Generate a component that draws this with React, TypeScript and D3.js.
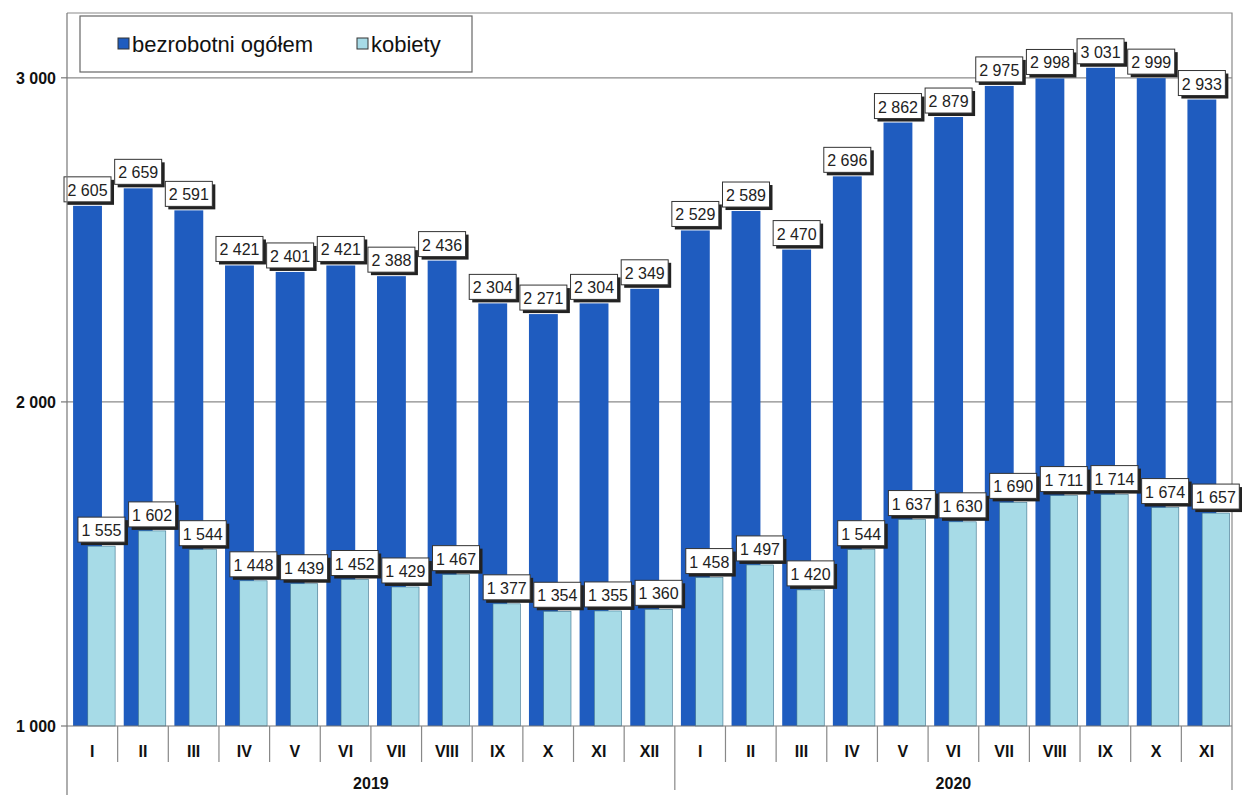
import React, { useEffect, useRef } from 'react';
import * as d3 from 'd3';

const months2019 = ['I', 'II', 'III', 'IV', 'V', 'VI', 'VII', 'VIII', 'IX', 'X', 'XI', 'XII'];
const months2020 = ['I', 'II', 'III', 'IV', 'V', 'VI', 'VII', 'VIII', 'IX', 'X', 'XI'];
const years = ['2019', '2020'];
const total = [2605, 2659, 2591, 2421, 2401, 2421, 2388, 2436, 2304, 2271, 2304, 2349,
  2529, 2589, 2470, 2696, 2862, 2879, 2975, 2998, 3031, 2999, 2933];
const women = [1555, 1602, 1544, 1448, 1439, 1452, 1429, 1467, 1377, 1354, 1355, 1360,
  1458, 1497, 1420, 1544, 1637, 1630, 1690, 1711, 1714, 1674, 1657];
const yTicks = [1000, 2000, 3000];
const seriesNames = ['bezrobotni ogółem', 'kobiety'];

const DARK = '#1f5cbf';
const LIGHT = '#a7dbe7';

export default function App() {
  const ref = useRef<SVGSVGElement>(null);

  useEffect(() => {
    const width = 1242;
    const height = 795;
    const margin = { top: 13, right: 10, bottom: 69, left: 67 };
    const font = 'Arial, "Liberation Sans", sans-serif';

    const svg = d3.select(ref.current);
    svg.selectAll('*').remove();

    const cats = [
      ...months2019.map((m) => `2019-${m}`),
      ...months2020.map((m) => `2020-${m}`),
    ];
    const rows = cats.map((c, i) => ({ key: c, label: c.split('-')[1], total: total[i], women: women[i] }));

    const x = d3.scaleBand<string>().domain(cats).range([margin.left, width - margin.right]).padding(0);
    const y = d3.scaleLinear().domain([1000, 3200]).range([height - margin.bottom, margin.top]);
    const bw = x.bandwidth();
    const x0 = margin.left;
    const x1 = width - margin.right;
    const yb = y(1000);

    // gridlines
    svg.append('g')
      .selectAll('line')
      .data(yTicks.slice(1))
      .join('line')
      .attr('x1', x0).attr('x2', x1)
      .attr('y1', (d) => y(d)).attr('y2', (d) => y(d))
      .attr('stroke', '#8a8a8a').attr('stroke-width', 1.2);

    // plot border (top/right)
    svg.append('path')
      .attr('d', `M${x0},${margin.top}H${x1}V${yb}`)
      .attr('fill', 'none').attr('stroke', '#8a8a8a').attr('stroke-width', 1.2);

    // bars
    const plot = svg.append('g');
    plot.selectAll('rect.total')
      .data(rows)
      .join('rect')
      .attr('class', 'total')
      .attr('x', (d) => x(d.key)! + bw * 0.12)
      .attr('width', bw * 0.57)
      .attr('y', (d) => y(d.total))
      .attr('height', (d) => yb - y(d.total))
      .attr('fill', DARK);
    plot.selectAll('rect.women')
      .data(rows)
      .join('rect')
      .attr('class', 'women')
      .attr('x', (d) => x(d.key)! + bw * 0.41)
      .attr('width', bw * 0.54)
      .attr('y', (d) => y(d.women))
      .attr('height', (d) => yb - y(d.women))
      .attr('fill', LIGHT)
      .attr('stroke', '#3a6f8a').attr('stroke-width', 0.6);

    // labels
    const fmt = (v: number) => d3.format(',')(v).replace(',', ' ');
    const labels = svg.append('g').attr('font-family', font).attr('font-size', 16);
    const addLabel = (cx: number, top: number, text: string) => {
      const g = labels.append('g').attr('transform', `translate(${cx},${top})`);
      const w = 47;
      const h = 25;
      g.append('rect').attr('x', -w / 2 + 3).attr('y', -h - 4 + 3).attr('width', w).attr('height', h).attr('fill', '#222');
      g.append('rect').attr('x', -w / 2).attr('y', -h - 4).attr('width', w).attr('height', h)
        .attr('fill', '#fff').attr('stroke', '#333').attr('stroke-width', 1);
      g.append('text').attr('x', 0).attr('y', -10).attr('text-anchor', 'middle').attr('fill', '#222').text(text);
    };
    rows.forEach((d) => {
      addLabel(x(d.key)! + bw * 0.405, y(d.total), fmt(d.total));
    });
    rows.forEach((d) => {
      addLabel(x(d.key)! + bw * 0.68, y(d.women), fmt(d.women));
    });

    // y axis
    svg.append('line').attr('x1', x0).attr('x2', x0).attr('y1', margin.top).attr('y2', height)
      .attr('stroke', '#777').attr('stroke-width', 1.2);
    const ya = svg.append('g').attr('font-family', font).attr('font-size', 16).attr('font-weight', 'bold');
    ya.selectAll('line').data(yTicks).join('line')
      .attr('x1', x0 - 6).attr('x2', x0).attr('y1', (d) => y(d)).attr('y2', (d) => y(d))
      .attr('stroke', '#777').attr('stroke-width', 1.2);
    ya.selectAll('text').data(yTicks).join('text')
      .attr('x', x0 - 11).attr('y', (d) => y(d) + 6).attr('text-anchor', 'end').attr('fill', '#111')
      .text((d) => fmt(d));

    // x axis
    const xa = svg.append('g').attr('font-family', font).attr('font-size', 16).attr('font-weight', 'bold');
    xa.append('line').attr('x1', x0).attr('x2', x1).attr('y1', yb).attr('y2', yb).attr('stroke', '#777').attr('stroke-width', 1.2);
    xa.selectAll('line.sep').data(cats.slice(1)).join('line').attr('class', 'sep')
      .attr('x1', (d) => x(d)!).attr('x2', (d) => x(d)!)
      .attr('y1', yb).attr('y2', (d) => (d === '2020-I' ? height - 5 : yb + 36))
      .attr('stroke', '#888').attr('stroke-width', 1.2);
    xa.append('line').attr('x1', x1).attr('x2', x1).attr('y1', yb).attr('y2', height - 5)
      .attr('stroke', '#888').attr('stroke-width', 1.2);
    xa.selectAll('text.m').data(rows).join('text').attr('class', 'm')
      .attr('x', (d) => x(d.key)! + bw / 2).attr('y', yb + 31).attr('text-anchor', 'middle').attr('fill', '#111')
      .text((d) => d.label);
    const yearMid = [
      (x('2019-I')! + x('2019-XII')! + bw) / 2,
      (x('2020-I')! + x('2020-XI')! + bw) / 2,
    ];
    xa.selectAll('text.y').data(years).join('text').attr('class', 'y')
      .attr('x', (d, i) => yearMid[i]).attr('y', height - 6).attr('text-anchor', 'middle').attr('fill', '#111')
      .text((d) => d);

    // legend
    const lg = svg.append('g').attr('font-family', font).attr('font-size', 22);
    lg.append('rect').attr('x', 80).attr('y', 16).attr('width', 392).attr('height', 56)
      .attr('fill', '#fff').attr('stroke', '#666').attr('stroke-width', 1.2);
    const items = [
      { name: seriesNames[0], color: DARK, x: 118 },
      { name: seriesNames[1], color: LIGHT, x: 357 },
    ];
    items.forEach((it) => {
      lg.append('rect').attr('x', it.x).attr('y', 38).attr('width', 11).attr('height', 11)
        .attr('fill', it.color).attr('stroke', '#333').attr('stroke-width', 1);
      lg.append('text').attr('x', it.x + 14).attr('y', 52).attr('fill', '#111').text(it.name);
    });
  }, []);

  return (
    <svg
      ref={ref}
      width={1242}
      height={795}
      style={{ position: 'absolute', left: 0, top: 0, background: '#fff' }}
    />
  );
}
